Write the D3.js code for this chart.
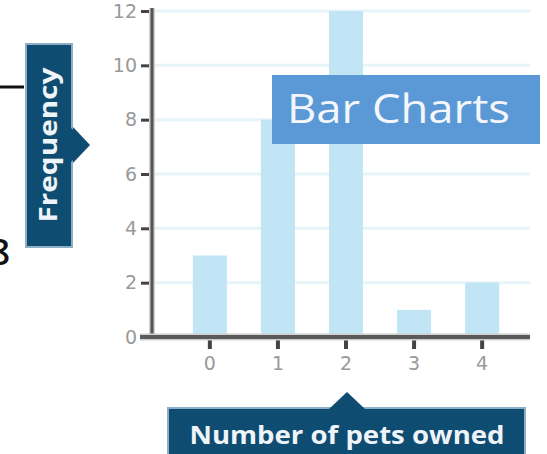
<!DOCTYPE html>
<html>
<head>
<meta charset="utf-8">
<script src="https://cdn.jsdelivr.net/npm/d3@7"></script>
<style>
  html, body { margin: 0; padding: 0; background: #fff; overflow: hidden; }
  svg { display: block; }
</style>
</head>
<body>
<script>
const categories = ["0", "1", "2", "3", "4"];
const frequencies = [3, 8, 12, 1, 2];
const yTicks = [0, 2, 4, 6, 8, 10, 12];
const titleText = "Bar Charts";
const xTitle = "Number of pets owned";
const yTitle = "Frequency";

const W = 547, H = 454;
const svg = d3.select("body").append("svg").attr("width", W).attr("height", H);

const x = d3.scaleBand().domain(categories).range([152, 540]).paddingInner(0.5).paddingOuter(0.6);
const y = d3.scaleLinear().domain([0, 12]).range([337, 11]);

// gridlines
svg.append("g").selectAll("line").data(yTicks.filter(d => d > 0)).join("line")
  .attr("x1", 152).attr("x2", 530)
  .attr("y1", d => y(d)).attr("y2", d => y(d))
  .attr("stroke", "#e7f4fa").attr("stroke-width", 3);

// bars
svg.append("g").selectAll("rect").data(frequencies).join("rect")
  .attr("x", (d, i) => x(categories[i]))
  .attr("width", x.bandwidth())
  .attr("y", d => y(d))
  .attr("height", d => y(0) - y(d))
  .attr("fill", "#c1e5f4");

// y axis
const yAxis = svg.append("g").attr("transform", "translate(152,0)")
  .call(d3.axisLeft(y).tickValues(yTicks).tickSize(11).tickPadding(4));
yAxis.select(".domain").remove();
yAxis.selectAll(".tick line").attr("stroke", "#444").attr("stroke-width", 3);
yAxis.selectAll(".tick text").attr("fill", "#999").attr("font-size", 19)
  .attr("font-family", "DejaVu Sans, sans-serif");
// y axis line with halo
svg.append("line").attr("x1", 152).attr("x2", 152).attr("y1", 8).attr("y2", 338)
  .attr("stroke", "#cfcfcf").attr("stroke-width", 6);
svg.append("line").attr("x1", 152).attr("x2", 152).attr("y1", 8).attr("y2", 338)
  .attr("stroke", "#555").attr("stroke-width", 3);

// x axis
const xAxis = svg.append("g").attr("transform", "translate(0,338)")
  .call(d3.axisBottom(x).tickSize(11).tickPadding(8));
xAxis.select(".domain").remove();
xAxis.selectAll(".tick line").attr("stroke", "#444").attr("stroke-width", 4);
xAxis.selectAll(".tick text").attr("fill", "#999").attr("font-size", 19)
  .attr("font-family", "DejaVu Sans, sans-serif");
svg.append("line").attr("x1", 140).attr("x2", 530).attr("y1", 337).attr("y2", 337)
  .attr("stroke", "#cfcfcf").attr("stroke-width", 7);
svg.append("line").attr("x1", 140).attr("x2", 530).attr("y1", 337).attr("y2", 337)
  .attr("stroke", "#5a5a5a").attr("stroke-width", 4);

// Frequency label box
const fb = svg.append("g");
fb.append("path").attr("d", "M73,127 L90,145 L73,163 Z").attr("fill", "#0f4c72");
fb.append("rect").attr("x", 26).attr("y", 44).attr("width", 46).attr("height", 203)
  .attr("fill", "#0f4c72").attr("stroke", "#8aafc6").attr("stroke-width", 2);
fb.append("path").attr("d", "M71,128 L89,145 L71,162 Z").attr("fill", "#0f4c72");
fb.append("text").attr("transform", "translate(57,145) rotate(-90)")
  .attr("text-anchor", "middle").attr("fill", "#eef4f8")
  .attr("font-family", "Open Sans, sans-serif").attr("font-weight", "bold")
  .attr("font-size", 25).attr("textLength", 155).attr("lengthAdjust", "spacingAndGlyphs")
  .text(yTitle);

// x title box
const xb = svg.append("g");
xb.append("rect").attr("x", 168).attr("y", 408).attr("width", 357).attr("height", 60)
  .attr("fill", "#0f4c72").attr("stroke", "#8aafc6").attr("stroke-width", 2);
xb.append("path").attr("d", "M329,409 L347,392 L365,409 Z").attr("fill", "#0f4c72");
xb.append("text").attr("x", 347).attr("y", 444).attr("text-anchor", "middle")
  .attr("fill", "#eef4f8").attr("font-family", "Open Sans, sans-serif").attr("font-weight", "bold")
  .attr("font-size", 25).attr("textLength", 315).attr("lengthAdjust", "spacingAndGlyphs")
  .text(xTitle);

// Bar Charts title
svg.append("rect").attr("x", 272).attr("y", 75).attr("width", 268).attr("height", 69).attr("fill", "#5a99d5");
svg.append("text").attr("x", 287).attr("y", 123).attr("fill", "#f4f6fb")
  .attr("font-family", "Open Sans, sans-serif").attr("font-size", 41)
  .attr("textLength", 223).attr("lengthAdjust", "spacingAndGlyphs")
  .text(titleText);

// left fragments
svg.append("line").attr("x1", 0).attr("x2", 24).attr("y1", 87).attr("y2", 87)
  .attr("stroke", "#111").attr("stroke-width", 3);
svg.append("text").attr("x", 10).attr("y", 265).attr("text-anchor", "end")
  .attr("fill", "#111").attr("font-family", "Open Sans, sans-serif").attr("font-weight", 600)
  .attr("font-size", 36)
  .text("8");
</script>
</body>
</html>
